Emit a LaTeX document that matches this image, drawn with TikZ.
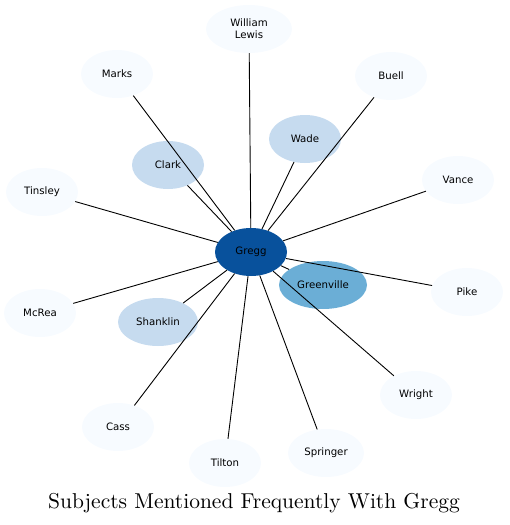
\documentclass[tikz,border=0pt]{standalone}
\usepackage{fontspec}
\newfontfamily\labelfont{DejaVu Sans}
\usepackage{tikz}
\usetikzlibrary{shapes.geometric}
\usepackage{xcolor}
\definecolor{greggblue}{HTML}{08519C}
\definecolor{midblue}{HTML}{6BAED6}
\definecolor{lightblue}{HTML}{C6DBEF}
\definecolor{paleblue}{HTML}{F7FBFF}

\begin{document}
\begin{tikzpicture}[x=1pt, y=-1pt,
    person/.style={ellipse, fill=paleblue, minimum width=72pt, minimum height=48pt, inner sep=0pt, align=center, font=\labelfont\fontsize{10.2}{12}\selectfont},
    link/.style={black, line width=0.9pt}]
    \useasboundingbox (0,0) rectangle (509,525);

    \node[person, fill=greggblue] (gregg) at (251,252) {Gregg};
    \node[person, fill=midblue, minimum width=88pt] (greenville) at (323,285) {Greenville};
    \node[person, fill=lightblue] (clark) at (168,165) {Clark};
    \node[person, fill=lightblue] (wade) at (305,139) {Wade};
    \node[person, fill=lightblue, minimum width=80pt] (shanklin) at (158,322) {Shanklin};
    \node[person, minimum width=86pt] (lewis) at (249,29) {William\\Lewis};
    \node[person] (marks) at (117,74) {Marks};
    \node[person] (buell) at (391,76) {Buell};
    \node[person] (tinsley) at (42,192) {Tinsley};
    \node[person] (vance) at (458,180) {Vance};
    \node[person] (mcrea) at (40,313) {McRea};
    \node[person] (pike) at (467,292) {Pike};
    \node[person] (cass) at (118,427) {Cass};
    \node[person] (wright) at (416,395) {Wright};
    \node[person] (tilton) at (225,463) {Tilton};
    \node[person, minimum width=76pt] (springer) at (326,453) {Springer};

    \foreach \other in {greenville, clark, wade, shanklin, lewis, marks, buell, tinsley, vance, mcrea, pike, cass, wright, tilton, springer}
        \draw[link] (gregg) -- (\other);

    \node[font=\fontsize{10}{12}\selectfont, scale=2.15] (title) at (254,503) {Subjects Mentioned Frequently With Gregg};
\end{tikzpicture}
\end{document}
